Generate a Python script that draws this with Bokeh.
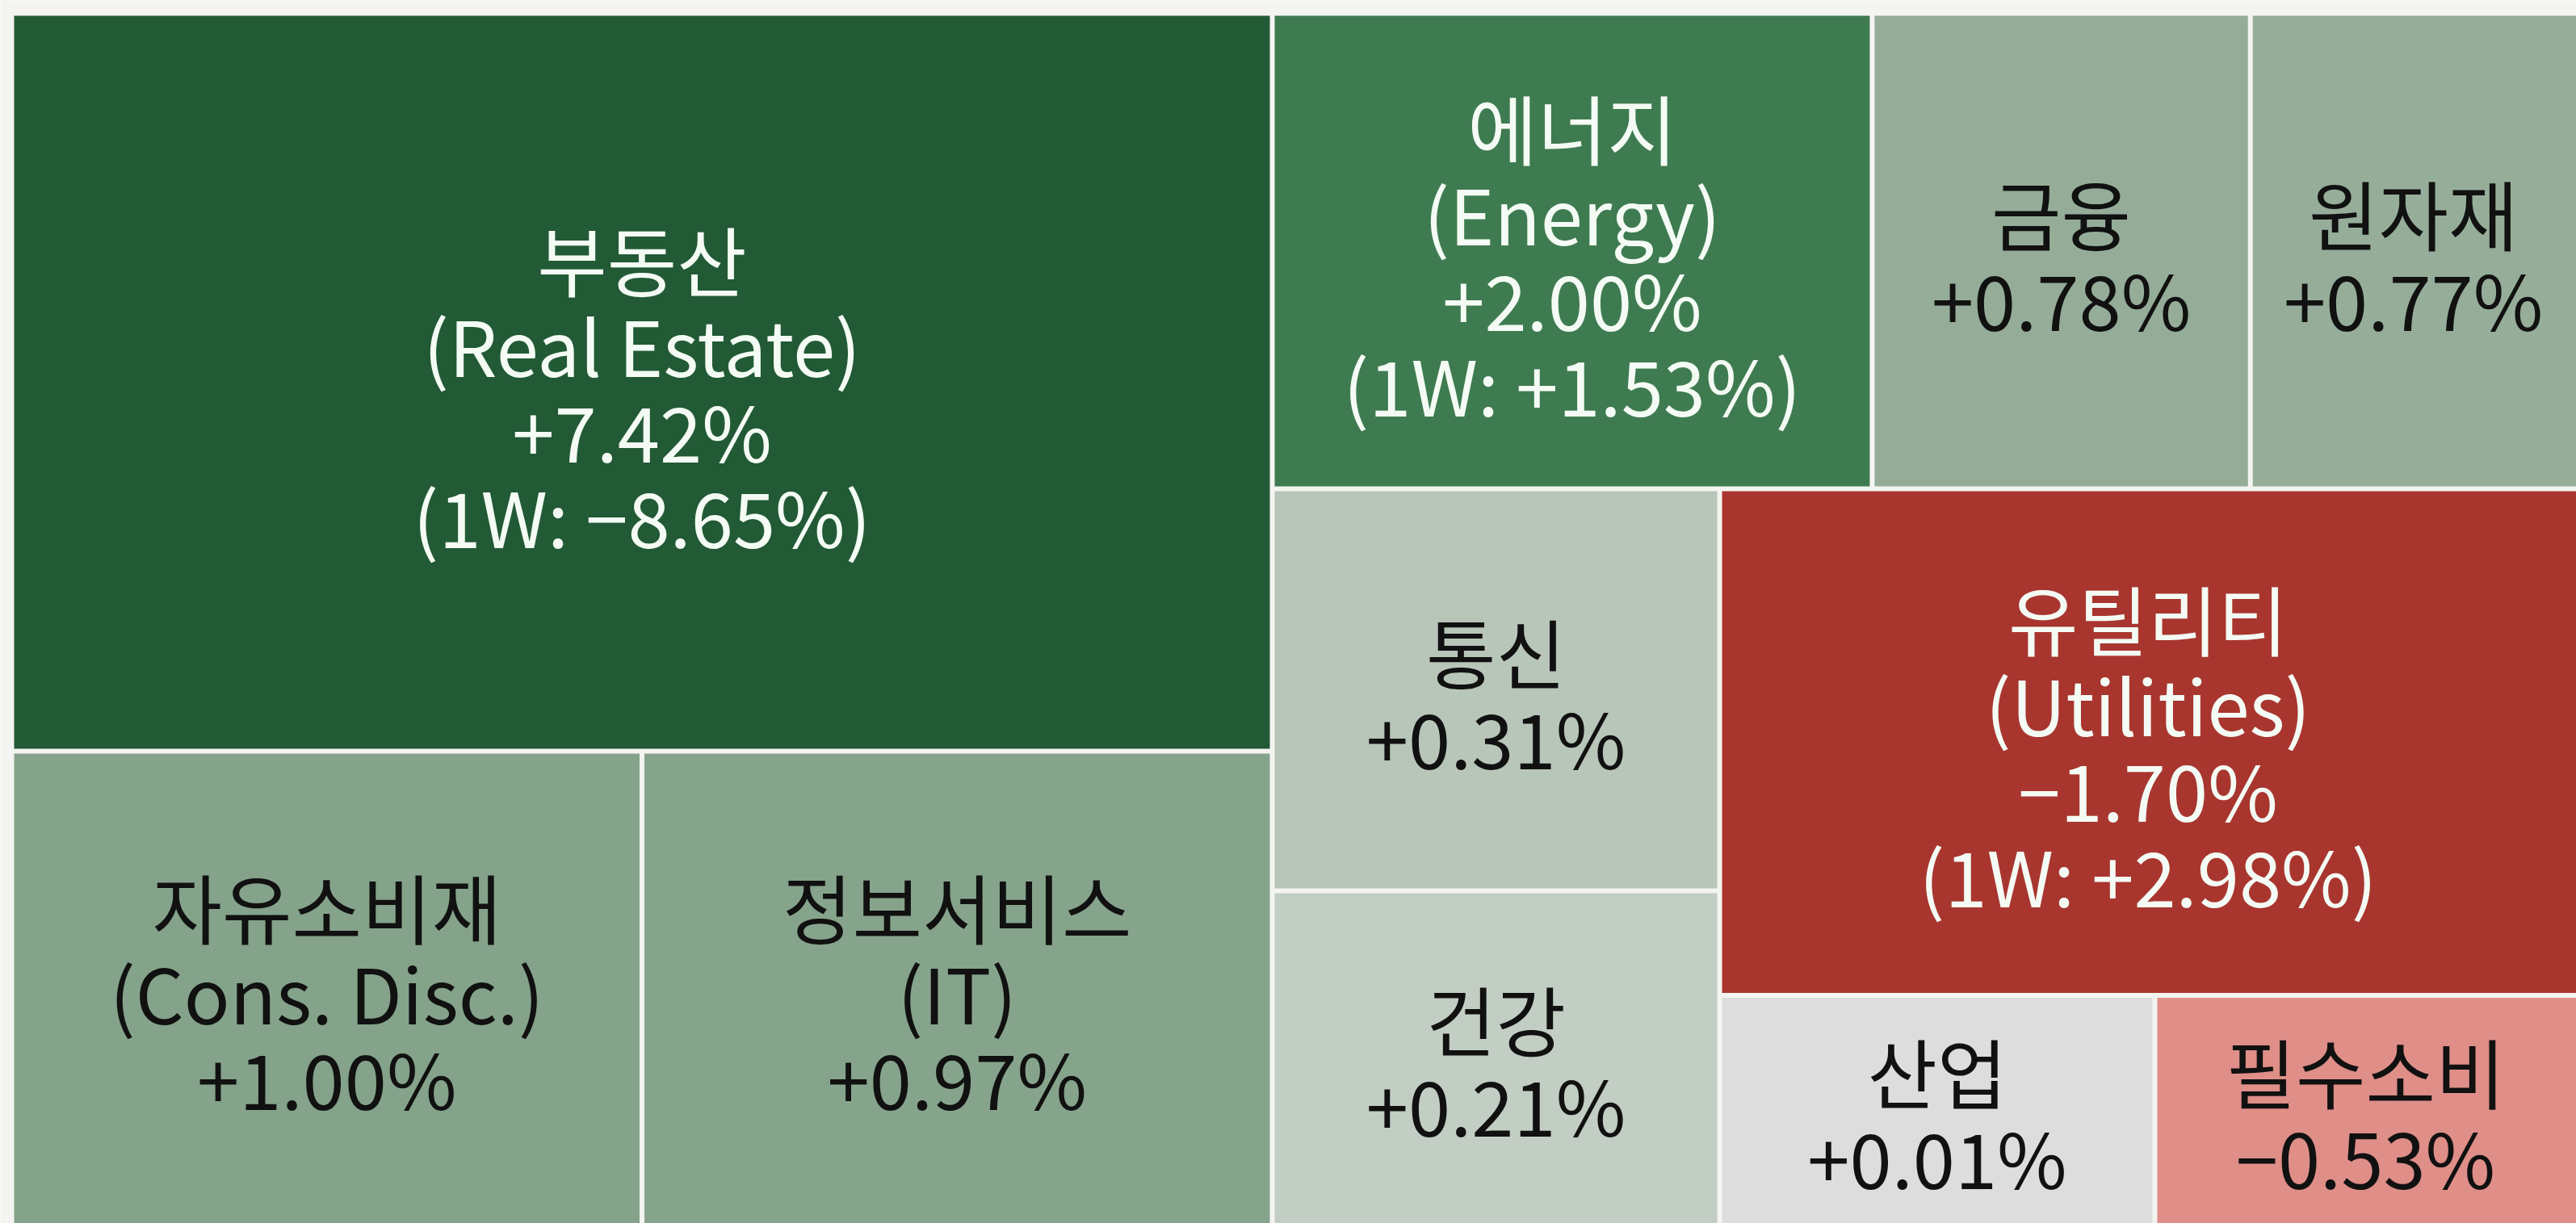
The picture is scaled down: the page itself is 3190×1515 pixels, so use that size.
from bokeh.plotting import figure
from bokeh.models import Range1d, ColumnDataSource
from bokeh.core.properties import value
from bokeh.embed import file_html
from bokeh.resources import INLINE

# ---- data ----
names_ko = ["부동산", "자유소비재", "정보서비스", "에너지", "금융", "원자재",
            "통신", "건강", "유틸리티", "산업", "필수소비"]
names_en = ["Real Estate", "Cons. Disc.", "IT", "Energy", "", "",
            "", "", "Utilities", "", ""]
chg_1d = [7.42, 1.00, 0.97, 2.00, 0.78, 0.77, 0.31, 0.21, -1.70, 0.01, -0.53]
chg_1w = [-8.65, None, None, 1.53, None, None, None, None, 2.98, None, None]
weights = [30.0, 9.6, 9.6, 9.2, 5.8, 5.0, 5.8, 4.8, 14.0, 3.2, 3.1]

# treemap nesting (h = side by side, v = stacked)
tree = ("h", [("v", [0, ("h", [1, 2])]),
              ("v", [("h", [3, 4, 5]),
                     ("h", [("v", [6, 7]),
                            ("v", [8, ("h", [9, 10])])])])])

# ---- layout ----
W, H = 3190, 1515
X0, Y0, X1, Y1 = 14, 16, 3190, 1515
rects = {}


def wsum(node):
    if isinstance(node, int):
        return weights[node]
    return sum(wsum(c) for c in node[1])


def layout(node, x0, y0, x1, y1):
    if isinstance(node, int):
        rects[node] = (x0, y0, x1, y1)
        return
    orient, kids = node
    tot = wsum(node)
    pos = x0 if orient == "h" else y0
    for k in kids:
        f = wsum(k) / tot
        if orient == "h":
            w = (x1 - x0) * f
            layout(k, pos, y0, pos + w, y1)
            pos += w
        else:
            h = (y1 - y0) * f
            layout(k, x0, pos, x1, pos + h)
            pos += h


layout(tree, X0, Y0, X1, Y1)


# ---- colours ----
def hex2rgb(h):
    h = h.lstrip("#")
    return [int(h[i:i + 2], 16) for i in (0, 2, 4)]


def interp(anchors, v):
    if v <= anchors[0][0]:
        return anchors[0][1]
    for (a, ca), (b, cb) in zip(anchors, anchors[1:]):
        if v <= b:
            t = (v - a) / (b - a)
            r1, r2 = hex2rgb(ca), hex2rgb(cb)
            return "#%02x%02x%02x" % tuple(round(p + (q - p) * t) for p, q in zip(r1, r2))
    return anchors[-1][1]


pos_anchors = [(0.0, "#dedede"), (0.21, "#c2cdc3"), (0.31, "#b8c6b9"),
               (0.78, "#95ad98"), (1.0, "#84a38a"), (2.0, "#3f7b51"), (3.0, "#225a35")]
neg_anchors = [(0.0, "#dedede"), (0.53, "#df8e88"), (1.7, "#a8362f"), (3.0, "#8a2020")]


def color_for(v):
    return interp(pos_anchors, v) if v >= 0 else interp(neg_anchors, -v)


def lum(h):
    r, g, b = hex2rgb(h)
    return (0.299 * r + 0.587 * g + 0.114 * b) / 255


def fmt(v):
    s = "%.2f%%" % abs(v)
    return ("+" if v >= 0 else "\u2212") + s


# ---- figure ----
BG = "#f4f4f1"
p = figure(width=W, height=H, x_range=Range1d(0, W), y_range=Range1d(H, 0),
           output_backend="svg", toolbar_location=None, min_border=0,
           x_axis_type=None, y_axis_type=None)
p.grid.visible = False
p.outline_line_color = None
p.background_fill_color = BG
p.border_fill_color = BG

gap = 3
n = len(names_ko)
fills = [color_for(v) for v in chg_1d]
quad_src = ColumnDataSource(dict(
    left=[rects[i][0] + gap for i in range(n)],
    right=[rects[i][2] - (0 if rects[i][2] >= X1 - 0.5 else gap) for i in range(n)],
    top=[rects[i][1] + gap for i in range(n)],
    bottom=[rects[i][3] - (0 if rects[i][3] >= Y1 - 0.5 else gap) for i in range(n)],
    fill=fills,
))
p.quad(left="left", right="right", top="top", bottom="bottom", fill_color="fill",
       line_color=None, source=quad_src)

LH = 106
OFFSET = 5
tx, ty, tt, tc = [], [], [], []
for i in range(n):
    lines = [names_ko[i]]
    if names_en[i]:
        lines.append("(" + names_en[i] + ")")
    lines.append(fmt(chg_1d[i]))
    if chg_1w[i] is not None:
        lines.append("(1W: " + fmt(chg_1w[i]) + ")")
    cx = (rects[i][0] + rects[i][2]) / 2
    cy = (rects[i][1] + rects[i][3]) / 2 + OFFSET
    col = "#f4fbf4" if lum(fills[i]) < 0.45 else "#111111"
    m = len(lines)
    for j, s in enumerate(lines):
        tx.append(cx)
        ty.append(cy + (j - (m - 1) / 2) * LH)
        tt.append(s)
        tc.append(col)

p.text(x=tx, y=ty, text=tt, text_color=tc, text_font=value("Noto Sans CJK KR"),
       text_font_size=value("94px"), text_align="center", text_baseline="middle")

open("out.html", "w").write(file_html(p, INLINE))
